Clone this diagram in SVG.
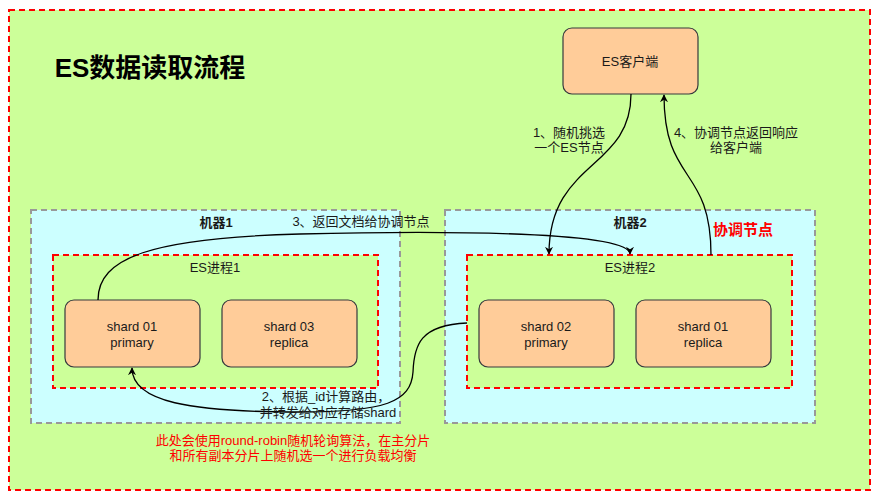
<svg xmlns="http://www.w3.org/2000/svg" width="878" height="500" viewBox="0 0 878 500">
<defs>
<style>
text{font-family:"Liberation Sans","Noto Sans CJK SC",sans-serif;font-size:13px;fill:#1a1a1a;text-anchor:middle}
.red{stroke:#FF0000;stroke-width:2;stroke-dasharray:6 4;fill:#CCFF99}
.machine{stroke:#999999;stroke-width:2;stroke-dasharray:6 4;fill:#CCFFFF}
.shard{fill:#FFCC99;stroke:#36393d;stroke-width:1.2}
.edge{fill:none;stroke:#000;stroke-width:1.3}
.b{font-weight:bold}
.note{fill:#FF0000}
</style>
<marker id="arr" viewBox="0 0 10 10" refX="9" refY="5" markerWidth="8" markerHeight="8" markerUnits="userSpaceOnUse" orient="auto">
<path d="M0,0 L10,5 L0,10 L3,5 Z" fill="#000"/>
</marker>
</defs>
<rect x="0" y="0" width="878" height="500" fill="#fff"/>
<g id="outer">
<rect class="red" x="9" y="10" width="861" height="480"/>
<text x="150" y="77" class="b" style="font-size:26px;fill:#000">ES数据读取流程</text>
</g>
<g id="machine1">
<rect class="machine" x="31" y="210" width="369" height="213"/>
<text x="216" y="227" class="b">机器1</text>
</g>
<g id="machine2">
<rect class="machine" x="445" y="210" width="370" height="213"/>
<text x="630" y="227" class="b">机器2</text>
</g>
<g id="process1">
<rect class="red" x="53" y="255" width="325" height="133"/>
<text x="215" y="272">ES进程1</text>
</g>
<g id="process2">
<rect class="red" x="467" y="255" width="325" height="133"/>
<text x="630" y="272">ES进程2</text>
</g>
<g id="client">
<rect class="shard" x="563" y="28" width="135" height="66" rx="9"/>
<text x="630" y="66">ES客户端</text>
</g>
<g id="shard01p">
<rect class="shard" x="65" y="300" width="135" height="67" rx="9"/>
<text x="132" y="331">shard 01</text>
<text x="132" y="347">primary</text>
</g>
<g id="shard03r">
<rect class="shard" x="222" y="300" width="135" height="67" rx="9"/>
<text x="289" y="331">shard 03</text>
<text x="289" y="347">replica</text>
</g>
<g id="shard02p">
<rect class="shard" x="479" y="300" width="135" height="67" rx="9"/>
<text x="546" y="331">shard 02</text>
<text x="546" y="347">primary</text>
</g>
<g id="shard01r">
<rect class="shard" x="636" y="300" width="135" height="67" rx="9"/>
<text x="703" y="331">shard 01</text>
<text x="703" y="347">replica</text>
</g>
<g id="connectors">
<path class="edge" d="M631,94 C631,170 549,160 549,254" marker-end="url(#arr)"/>
<path class="edge" d="M711,255 C711,165 664,185 664,95" marker-end="url(#arr)"/>
<path class="edge" d="M98,300 C98,258 150,238 300,234 C450,230 630,232 630,254" marker-end="url(#arr)"/>
<path class="edge" d="M467,323 C420,325 414,345 413,372 C411,402 385,412 300,412 C190,412 132,402 132,368" marker-end="url(#arr)"/>
</g>
<g id="labels">
<text x="569" y="137">1、随机挑选</text>
<text x="569" y="152">一个ES节点</text>
<text x="736" y="137">4、协调节点返回响应</text>
<text x="736" y="152">给客户端</text>
<text x="361" y="226">3、返回文档给协调节点</text>
<text x="743" y="235" class="b note" style="font-size:15px">协调节点</text>
<text x="326" y="401">2、根据_id计算路由，</text>
<text x="328" y="417">并转发给对应存储shard</text>
<text x="293" y="445" class="note">此处会使用round-robin随机轮询算法，在主分片</text>
<text x="293" y="460" class="note">和所有副本分片上随机选一个进行负载均衡</text>
</g>
</svg>
